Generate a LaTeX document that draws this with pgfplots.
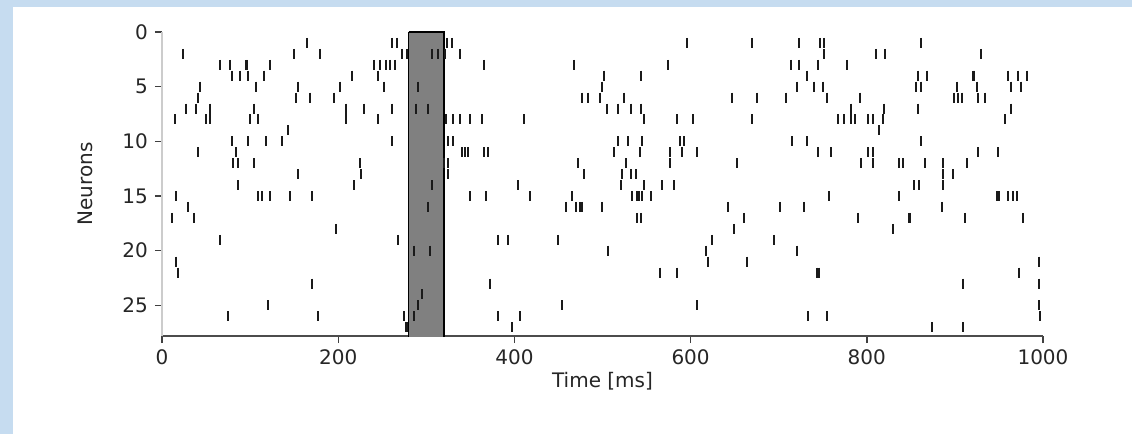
\documentclass[border=0pt]{standalone}
\usepackage{fontspec}
\setmainfont{DejaVu Sans}
\usepackage{pgfplots}
\usepackage{pgfplotstable}
\pgfplotsset{compat=1.18}
\definecolor{frameblue}{HTML}{C6DCF0}
\definecolor{spike}{HTML}{1A1A1A}

% spike times (ms) and neuron index
\pgfplotstableread{
t n
165 1
261 1
267 1
323 1
329 1
596 1
670 1
723 1
747 1
751 1
862 1
24 2
150 2
179 2
272 2
278 2
307 2
313 2
321 2
338 2
751 2
811 2
821 2
930 2
66 3
77 3
95 3
97 3
123 3
241 3
247 3
254 3
259 3
264 3
365 3
468 3
574 3
714 3
723 3
745 3
777 3
79 4
88 4
98 4
116 4
216 4
245 4
502 4
544 4
732 4
858 4
868 4
920 4
922 4
960 4
972 4
982 4
43 5
107 5
154 5
202 5
252 5
291 5
499 5
721 5
740 5
750 5
856 5
862 5
902 5
925 5
964 5
975 5
41 6
152 6
168 6
195 6
477 6
484 6
497 6
524 6
647 6
675 6
708 6
755 6
792 6
899 6
904 6
908 6
926 6
934 6
27 7
39 7
54 7
104 7
209 7
229 7
261 7
288 7
302 7
505 7
518 7
532 7
544 7
782 7
820 7
858 7
964 7
15 8
50 8
54 8
100 8
109 8
209 8
245 8
322 8
330 8
338 8
350 8
363 8
411 8
547 8
584 8
603 8
670 8
767 8
774 8
782 8
787 8
801 8
807 8
818 8
957 8
143 9
814 9
79 10
98 10
118 10
136 10
261 10
325 10
330 10
518 10
529 10
545 10
588 10
593 10
715 10
732 10
862 10
41 11
84 11
340 11
344 11
347 11
365 11
370 11
513 11
543 11
577 11
590 11
607 11
745 11
759 11
801 11
807 11
926 11
949 11
81 12
86 12
104 12
225 12
320 12
325 12
472 12
527 12
577 12
653 12
793 12
807 12
837 12
841 12
866 12
887 12
914 12
154 13
226 13
325 13
479 13
522 13
532 13
538 13
887 13
898 13
86 14
218 14
307 14
404 14
521 14
547 14
568 14
581 14
854 14
859 14
887 14
16 15
109 15
113 15
123 15
145 15
170 15
350 15
368 15
418 15
465 15
534 15
539 15
541 15
545 15
555 15
757 15
837 15
948 15
950 15
960 15
966 15
970 15
29 16
302 16
459 16
470 16
474 16
477 16
499 16
643 16
702 16
729 16
885 16
11 17
36 17
539 17
544 17
661 17
790 17
848 17
849 17
912 17
977 17
197 18
649 18
830 18
66 19
268 19
381 19
393 19
450 19
624 19
695 19
286 20
304 20
506 20
617 20
721 20
16 21
620 21
664 21
995 21
18 22
565 22
584 22
744 22
746 22
973 22
170 23
372 23
909 23
995 23
295 24
120 25
291 25
454 25
607 25
996 25
75 26
177 26
275 26
286 26
381 26
406 26
733 26
755 26
997 26
277 27
278 27
397 27
874 27
909 27
}\spikes

\begin{document}
\begin{tikzpicture}[x=1pt,y=1pt]
\fill[frameblue] (0,0) rectangle (566,217);
\fill[white] (6.5,0) rectangle (566,213.5);
\begin{axis}[
    at={(81pt,49pt)}, anchor=south west,
    scale only axis, width=440.5pt, height=152pt,
    xmin=0, xmax=1000, ymin=0, ymax=27.8,
    y dir=reverse,
    axis x line*=bottom, axis y line*=left,
    x axis line style={-, black!70, line width=1pt},
    y axis line style={-, black!20, line width=1pt},
    xtick={0,200,...,1000}, ytick={0,5,...,25},
    tick align=outside, major tick length=3.5pt,
    tick style={black!75, line width=0.7pt},
    font=\fontsize{10}{12}\selectfont,
    ticklabel style={black!85},
    /pgf/number format/assume math mode=true,
    /pgf/number format/1000 sep={},
    xlabel={Time [ms]}, ylabel={Neurons},
    label style={black!85},
    xlabel style={yshift=3.5pt},
    ylabel style={at={(axis description cs:-0.0874,0.5)}, anchor=center},
    clip=true,
]
\addplot[fill=black!50, draw=black, line width=0.8pt] coordinates {(280,0) (320,0) (320,28) (280,28) (280,0)};
\addplot[only marks, mark=|, mark size=2.5pt, mark options={spike, line width=1pt}] table[x=t, y=n] {\spikes};
\end{axis}
\pgfresetboundingbox
\useasboundingbox (0,0) rectangle (566,217);
\end{tikzpicture}
\end{document}
